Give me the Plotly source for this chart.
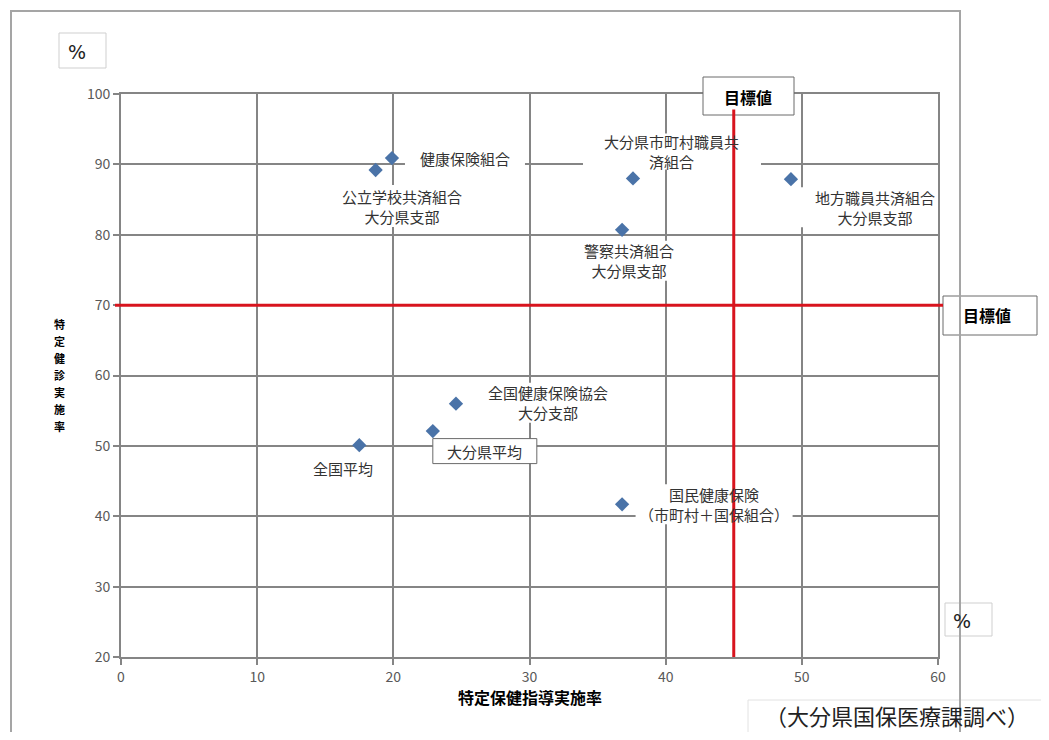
import plotly.graph_objects as go

# ---- data ----
names = [
    "健康保険組合",
    "公立学校共済組合<br>大分県支部",
    "大分県市町村職員共<br>済組合",
    "地方職員共済組合<br>大分県支部",
    "警察共済組合<br>大分県支部",
    "全国健康保険協会<br>大分支部",
    "大分県平均",
    "全国平均",
    "国民健康保険<br>（市町村＋国保組合）",
]
guidance_rate = [19.9, 18.7, 37.6, 49.2, 36.8, 24.6, 22.9, 17.5, 36.8]   # x: 特定保健指導実施率
checkup_rate = [90.9, 89.2, 88.0, 87.9, 80.7, 56.0, 52.1, 50.1, 41.7]    # y: 特定健診実施率
target_guidance = 45
target_checkup = 70
x_ticks = [0, 10, 20, 30, 40, 50, 60]
y_ticks = [20, 30, 40, 50, 60, 70, 80, 90, 100]
y_title = "特定健診実施率"

# ---- label layout (pixel offsets of label centre from point; background box size) ----
label_dx = [73, 26, 39, 84, 7, 92, 52, -16, 92]
label_dy = [0, 36, -27, 28, 31, -1, 20, 23, 0]
label_w = [120, 158, 178, 155, 122, 155, 104, 86, 157]
label_h = [22, 42, 36, 40, 40, 40, 25, 22, 40]
label_border = [False, False, False, False, False, False, True, False, False]

# page body has an 8px margin: the figure is drawn 8px in from the window's corner
OFF = 8
W, H = 1049 - 2 * OFF, 740 - 2 * OFF
PLOT_L, PLOT_R, PLOT_T, PLOT_B = 121, 938, 94, 657   # plot edges in window pixels
ML, MT = PLOT_L - OFF, PLOT_T - OFF
PW, PH = PLOT_R - PLOT_L, PLOT_B - PLOT_T
MR, MB = W - ML - PW, H - MT - PH

def px(xp):
    return (xp - PLOT_L) / PW

def py(yp):
    return (PLOT_B - yp) / PH

FONT = "Noto Sans CJK JP"
GRID = "#858585"
TICK = "#595959"

fig = go.Figure()
fig.add_trace(go.Scatter(
    x=guidance_rate, y=checkup_rate, mode="markers",
    marker=dict(symbol="diamond", size=11, color="#4a73a8"),
    hoverinfo="skip", showlegend=False,
))

shapes = []
annotations = []

def note(xp, yp, text, size, color="#000000", family=FONT, **kw):
    annotations.append(dict(x=px(xp), y=py(yp), xref="paper", yref="paper",
                            xanchor="center", yanchor="middle", text=text,
                            showarrow=False, font=dict(family=family, size=size, color=color),
                            **kw))

# label backgrounds
for x, y, dx, dy, w, h, b in zip(guidance_rate, checkup_rate, label_dx, label_dy,
                                  label_w, label_h, label_border):
    shapes.append(dict(
        type="rect", xref="x", yref="y", layer="above",
        xsizemode="pixel", ysizemode="pixel", xanchor=x, yanchor=y,
        x0=dx - w / 2, x1=dx + w / 2, y0=-dy - h / 2, y1=-dy + h / 2,
        fillcolor="white",
        line=dict(color="#6a6a6a", width=1) if b else dict(width=0),
    ))

# 目標値 boxes
shapes.append(dict(type="rect", xref="paper", yref="paper", layer="above",
                   x0=px(703), x1=px(794), y0=py(115), y1=py(77),
                   fillcolor="white", line=dict(color="#6a6a6a", width=1)))
shapes.append(dict(type="rect", xref="paper", yref="paper", layer="above",
                   x0=px(943), x1=px(1037), y0=py(335), y1=py(296),
                   fillcolor="white", line=dict(color="#6a6a6a", width=1)))

# target lines
shapes.append(dict(type="line", xref="x", yref="y", layer="above",
                   x0=target_guidance, x1=target_guidance, y0=y_ticks[0], y1=y_ticks[-1],
                   line=dict(color="#d8141e", width=3)))
shapes.append(dict(type="line", xref="paper", yref="y", layer="above",
                   x0=px(115), x1=px(943), y0=target_checkup, y1=target_checkup,
                   line=dict(color="#d8141e", width=3)))

# "%" boxes
shapes.append(dict(type="rect", xref="paper", yref="paper", layer="above",
                   x0=px(59), x1=px(106), y0=py(68), y1=py(33),
                   fillcolor="white", line=dict(color="#cfcfcf", width=1)))
shapes.append(dict(type="rect", xref="paper", yref="paper", layer="above",
                   x0=px(945), x1=px(992), y0=py(636), y1=py(603),
                   fillcolor="white", line=dict(color="#cfcfcf", width=1)))

# faint box of the source note
shapes.append(dict(type="rect", xref="paper", yref="paper", layer="above",
                   x0=px(748), x1=px(1060), y0=py(760), y1=py(700),
                   fillcolor="rgba(0,0,0,0)", line=dict(color="#e2e2e2", width=1)))

# outer chart frame
shapes.append(dict(type="rect", xref="paper", yref="paper", layer="above",
                   x0=px(11), x1=px(960), y0=py(780), y1=py(11),
                   fillcolor="rgba(0,0,0,0)", line=dict(color="#a5a5a5", width=2)))

# data labels
for name, x, y, dx, dy in zip(names, guidance_rate, checkup_rate, label_dx, label_dy):
    annotations.append(dict(
        x=x, y=y, xref="x", yref="y", text=name, showarrow=False,
        xanchor="center", yanchor="middle",
        xshift=dx, yshift=-dy, align="center",
        font=dict(family=FONT, size=15, color="#333333"),
    ))

# 目標値 texts
note(748, 97, "<b>目標値</b>", 16, bgcolor="white", borderpad=0)
note(987, 315, "<b>目標値</b>", 16)

# % texts
note(77, 52, "%", 19, color="#222222", family="DejaVu Sans")
note(962, 621, "%", 19, color="#222222", family="DejaVu Sans")

# axis titles
note(530, 697, "<b>特定保健指導実施率</b>", 16, borderpad=0)
# vertical (upright, stacked) y-axis title: one character per line
for i, ch in enumerate(y_title):
    note(59, 324 + i * 17, "<b>" + ch + "</b>", 11, borderpad=0)

# source note
note(897, 715, "（大分県国保医療課調べ）", 22, color="#222222")

axis_common = dict(
    showgrid=True, gridcolor=GRID, gridwidth=2,
    showline=True, linecolor=GRID, linewidth=2, mirror=True,
    ticks="outside", ticklen=6, tickcolor=GRID, tickwidth=2,
    zeroline=False, tickfont=dict(family=FONT, size=14, color=TICK),
)

fig.update_layout(
    width=W, height=H,
    margin=dict(l=ML, r=MR, t=MT, b=MB),
    paper_bgcolor="white", plot_bgcolor="white",
    xaxis=dict(range=[x_ticks[0], x_ticks[-1]], tickvals=x_ticks, **axis_common),
    yaxis=dict(range=[y_ticks[0], y_ticks[-1]], tickvals=y_ticks, **axis_common),
    shapes=shapes, annotations=annotations,
    showlegend=False,
)

fig.write_html("out.html")
